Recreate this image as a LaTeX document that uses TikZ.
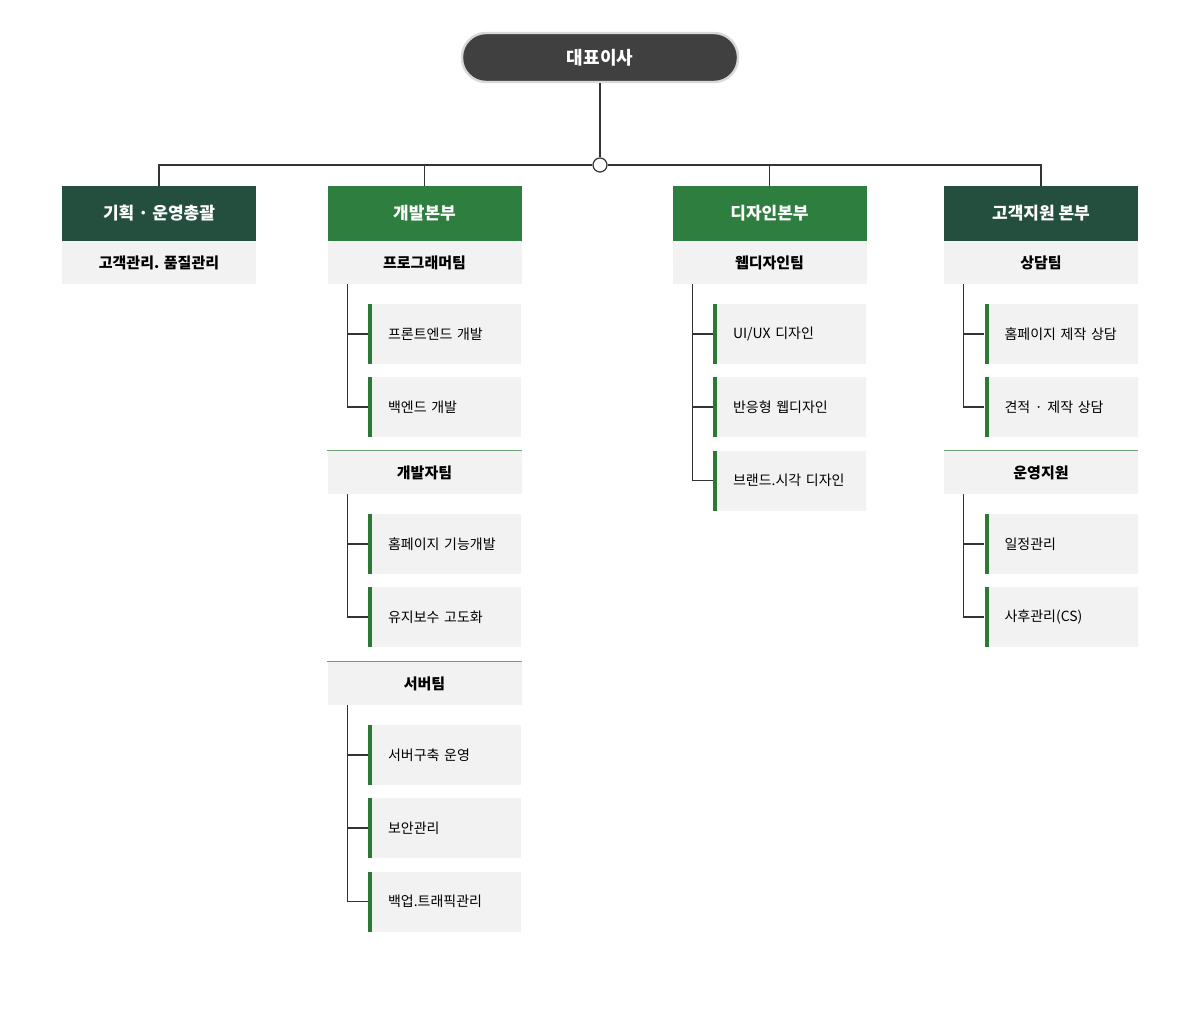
\documentclass[tikz,border=0pt]{standalone}
\usepackage{fontspec}
\setmainfont{Noto Sans CJK KR}
\usetikzlibrary{positioning,calc}
\definecolor{ceogray}{HTML}{404040}
\definecolor{darkgrn}{HTML}{244F3F}
\definecolor{brightgrn}{HTML}{2E7F3F}
\definecolor{barg}{HTML}{2A7A36}
\definecolor{boxgray}{HTML}{F2F2F2}
\definecolor{linegray}{HTML}{333333}
\tikzset{
    ceo/.style = {draw=black!15, line width=1.2pt, fill=ceogray, rounded corners=12pt,
        minimum width=138pt, minimum height=24.5pt, text=white, font=\bfseries\fontsize{9}{10}\selectfont},
    head/.style = {fill=#1, minimum width=97pt, minimum height=27.5pt, inner sep=0pt,
        text=white, font=\bfseries\fontsize{8.5}{10}\selectfont},
    team/.style = {fill=boxgray, minimum width=97pt, minimum height=21.5pt, inner sep=0pt,
        font=\bfseries\fontsize{7.5}{9}\selectfont},
    topline/.style = {append after command={(\tikzlastnode.north west) edge[draw=barg!70, line width=0.5pt] (\tikzlastnode.north east)}},
    item/.style = {fill=boxgray, minimum width=76.5pt, minimum height=30pt, inner xsep=10pt,
        text width=56.5pt, align=left, font=\fontsize{7}{8}\selectfont,
        path picture={\fill[barg] (path picture bounding box.north west) rectangle ([xshift=2pt]path picture bounding box.south west);}},
    conn/.style = {draw=linegray, line width=0.6pt}
}
\begin{document}
\begin{tikzpicture}[x=0.5pt,y=-0.5pt]
    \useasboundingbox (0,0) rectangle (1200,1011);
    % top
    \node [ceo] (ceo) at (600,57.5) {대표이사};
    \node [draw=linegray, fill=white, circle, line width=0.6pt, minimum size=7pt, inner sep=0pt] (hub) at (600,165) {};
    % headers
    \node [head=darkgrn] (h1) at (159,213.5) {기획 · 운영총괄};
    \node [head=brightgrn] (h2) at (424.5,213.5) {개발본부};
    \node [head=brightgrn] (h3) at (769.5,213.5) {디자인본부};
    \node [head=darkgrn] (h4) at (1041,213.5) {고객지원 본부};
    \draw [conn] (ceo.south) -- (hub.north);
    \draw [conn] (hub.west) -| (h1.north);
    \draw [conn] (hub.west) -| (h2.north);
    \draw [conn] (hub.east) -| (h3.north);
    \draw [conn] (hub.east) -| (h4.north);
    % teams
    \node [team] (t1) at (159,262.5) {고객관리. 품질관리};
    \node [team] (t21) at (424.5,262.5) {프로그래머팀};
    \node [team, topline] (t22) at (424.5,472.5) {개발자팀};
    \node [team, topline] (t23) at (424.5,683.5) {서버팀};
    \node [team] (t31) at (769.5,262.5) {웹디자인팀};
    \node [team] (t41) at (1041,262.5) {상담팀};
    \node [team, topline] (t42) at (1041,472.5) {운영지원};
    % items
    \node [item] (i211) at (444.5,334) {프론트엔드 개발};
    \node [item] (i212) at (444.5,407) {백엔드 개발};
    \node [item] (i221) at (444.5,544) {홈페이지 기능개발};
    \node [item] (i222) at (444.5,617) {유지보수 고도화};
    \node [item] (i231) at (444.5,755) {서버구축 운영};
    \node [item] (i232) at (444.5,828) {보안관리};
    \node [item] (i233) at (444.5,901.5) {백업.트래픽관리};
    \node [item] (i311) at (789.5,334) {UI/UX 디자인};
    \node [item] (i312) at (789.5,407) {반응형 웹디자인};
    \node [item] (i313) at (789.5,480.5) {브랜드.시각 디자인};
    \node [item] (i411) at (1061,334) {홈페이지 제작 상담};
    \node [item] (i412) at (1061,407) {견적 · 제작 상담};
    \node [item] (i421) at (1061,544) {일정관리};
    \node [item] (i422) at (1061,617) {사후관리(CS)};
    % tree lines
    \foreach \t/\list in {t21/{i211,i212}, t22/{i221,i222}, t23/{i231,i232,i233},
                          t31/{i311,i312,i313}, t41/{i411,i412}, t42/{i421,i422}}{
        \foreach \i in \list
            \draw [conn] ([xshift=10pt]\t.south west) |- (\i.west);
    }
\end{tikzpicture}
\end{document}
